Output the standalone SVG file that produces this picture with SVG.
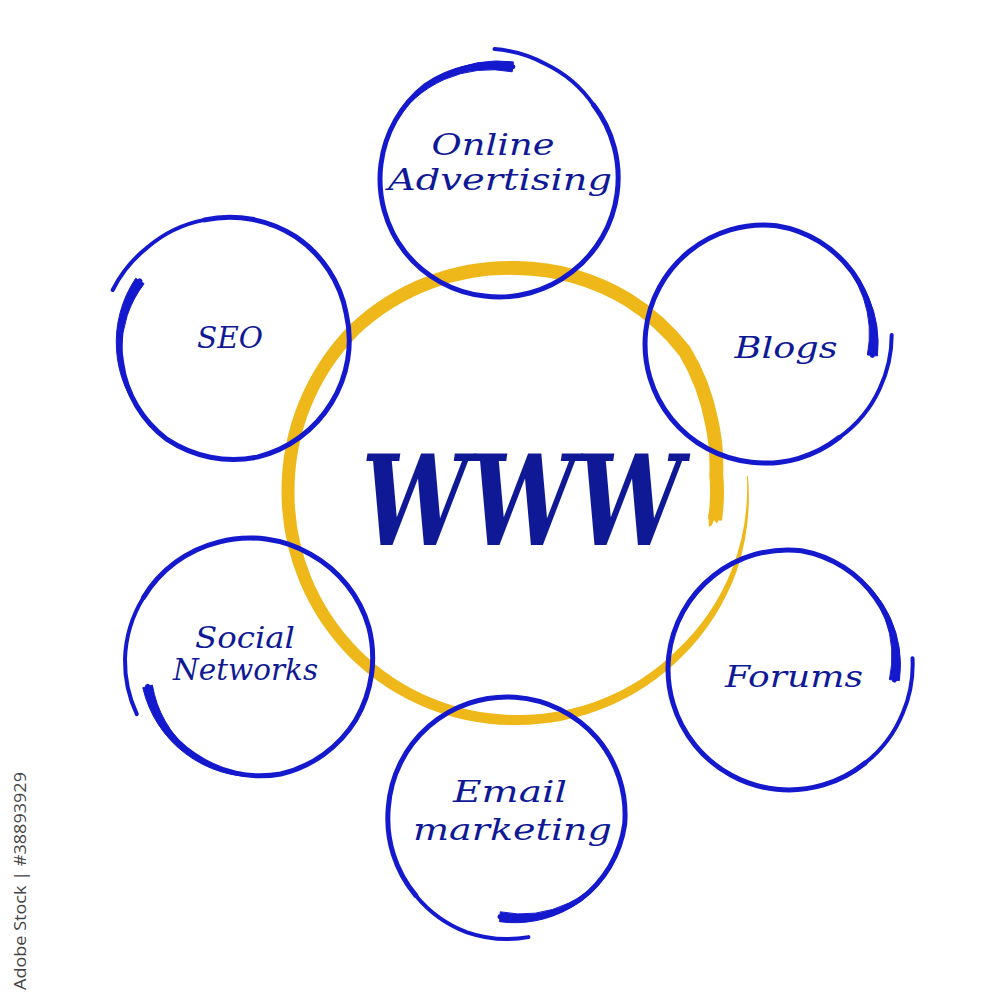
<svg xmlns="http://www.w3.org/2000/svg" width="987" height="1000" viewBox="0 0 987 1000">
<style>
.yfill{fill:#EFB81A;stroke:none}
.ring{fill:none;stroke:#1419CD;stroke-width:5;stroke-linecap:round;stroke-linejoin:round}
.tail{stroke-width:4}
.brush{fill:#1419CD;stroke:#1419CD;stroke-width:1;stroke-linejoin:round}
.label{font-family:"DejaVu Serif",serif;font-style:italic;font-size:30px;fill:#0F1996;text-anchor:middle}
.big{font-family:"DejaVu Serif",serif;font-style:italic;font-weight:bold;font-size:126px;fill:#0F1996;text-anchor:middle}
.credit{font-family:"Open Sans",sans-serif;font-size:17px;fill:#444}
</style>
<rect width="987" height="1000" fill="#fff"/>
<g id="node-www">
  <path class="yfill" d="M747.9,475.8 A232.5,232.5 0 0 1 736.4,571.9 A233,233 0 0 1 681.8,656.8 A233,233 0 0 1 517,725 A234,234 0 0 1 350.8,658.2 A235,235 0 0 1 281.5,492 A236,236 0 0 1 349.8,324.8 A233.5,233.5 0 0 1 517,261 A230,230 0 0 1 631.5,293.7 A227.5,227.5 0 0 1 690.1,346.7 A220,220 0 0 1 718.1,418.8 A210.5,210.5 0 0 1 723.2,473.9 A207,207 0 0 1 722.0,520.8 L708.1,518.9 A193,193 0 0 0 709.3,475.2 A196.5,196.5 0 0 0 704.9,423.6 A206,206 0 0 0 679.4,355.7 A213.5,213.5 0 0 0 624.5,305.8 A216,216 0 0 0 517,275 A220,220 0 0 0 359.0,334.0 A223,223 0 0 0 294.5,492 A222.75,222.75 0 0 0 359.3,649.7 A223,223 0 0 0 517,715 A224,224 0 0 0 676.1,651.1 A226.75,226.75 0 0 0 731.7,570.1 A229.5,229.5 0 0 0 746.9,475.9 Z"/>
  <path class="yfill" d="M708.3,514 L709,527 L712,525 L714,520 L717,523.5 L722,514 Z"/>
  <text class="big" x="522" y="545" textLength="321" lengthAdjust="spacingAndGlyphs">WWW</text>
</g>
<g id="node-online-advertising">
  <path class="ring" d="M512.8,66.8 A117,117 0 0 0 425.7,85.2 A119,119 0 0 0 380.9,164.5 A119,119 0 0 0 405.2,252.3 A118.5,118.5 0 0 0 484.6,296.1 A118,118 0 0 0 571.7,272.0 A118.5,118.5 0 0 0 617.1,193.5 A119.5,119.5 0 0 0 593.6,105.1"/>
  <path class="ring tail" d="M593.6,105.1 A122,122 0 0 0 545.5,64.0 A127,127 0 0 0 494.5,49.1"/>
  <path class="brush" d="M513.4,61.9 A118.5,118.5 0 0 0 393.0,125.0 A113.5,113.5 0 0 1 512.2,71.8 Z"/>
  <text class="label" x="493" y="155" textLength="123" lengthAdjust="spacingAndGlyphs">Online</text>
  <text class="label" x="500" y="190" textLength="224" lengthAdjust="spacingAndGlyphs">Advertising</text>
</g>
<g id="node-seo">
  <path class="ring" d="M139.9,281.0 A110,110 0 0 0 121.7,363.2 A115,115 0 0 0 167.1,439.4 A120,120 0 0 0 257.2,457.1 A120,120 0 0 0 331.4,402.9 A118.5,118.5 0 0 0 346.2,313.5 A119.5,119.5 0 0 0 296.0,236.9 A121.5,121.5 0 0 0 204.6,219.9"/>
  <path class="ring tail" d="M204.6,219.9 A123,123 0 0 0 147.2,247.6 A126,126 0 0 0 112.7,290.0"/>
  <path class="brush" d="M135.7,278.3 A115,115 0 0 0 144.7,418.0 A110,110 0 0 1 144.1,283.7 Z"/>
  <text class="label" x="230" y="348" textLength="66" lengthAdjust="spacingAndGlyphs">SEO</text>
</g>
<g id="node-blogs">
  <path class="ring" d="M872.4,355.4 A111.5,111.5 0 0 0 852.6,272.3 A116.5,116.5 0 0 0 776.4,225.7 A119,119 0 0 0 689.1,251.5 A119,119 0 0 0 645.7,331.6 A119,119 0 0 0 671.5,418.9 A119,119 0 0 0 751.6,462.3 A119.5,119.5 0 0 0 839.5,437.3"/>
  <path class="ring tail" d="M839.5,437.3 A122,122 0 0 0 879.8,388.4 A126,126 0 0 0 891.7,335.1"/>
  <path class="brush" d="M877.4,355.9 A114.5,114.5 0 0 0 831.6,251.0 A109.5,109.5 0 0 1 867.4,354.9 Z"/>
  <text class="label" x="786" y="358" textLength="103" lengthAdjust="spacingAndGlyphs">Blogs</text>
</g>
<g id="node-social-networks">
  <path class="ring" d="M147.6,686.4 A108.5,108.5 0 0 0 194.5,755.1 A115,115 0 0 0 280.8,774.0 A120.5,120.5 0 0 0 355.7,720 A122.5,122.5 0 0 0 368.8,627.2 A122,122 0 0 0 310.5,554.2 A121,121 0 0 0 218.7,542.1 A122,122 0 0 0 143.5,597.5"/>
  <path class="ring tail" d="M143.5,597.5 A124,124 0 0 0 125,659 A125.5,125.5 0 0 0 136.8,714.2"/>
  <path class="brush" d="M142.8,687.7 A114.5,114.5 0 0 0 260.3,776.6 A109.5,109.5 0 0 1 152.4,685.1 Z"/>
  <text class="label" x="245" y="648" textLength="100" lengthAdjust="spacingAndGlyphs">Social</text>
  <text class="label" x="245.5" y="680" textLength="145" lengthAdjust="spacingAndGlyphs">Networks</text>
</g>
<g id="node-forums">
  <path class="ring" d="M894.4,680.1 A109,109 0 0 0 876.0,598.5 A115.5,115.5 0 0 0 801.4,550.7 A119.5,119.5 0 0 0 713.5,575.7 A120.5,120.5 0 0 0 668.7,656.4 A121,121 0 0 0 695.0,745.1 A121,121 0 0 0 776.4,789.3 A121,121 0 0 0 865.1,763.0"/>
  <path class="ring tail" d="M865.1,763.0 A121.5,121.5 0 0 0 902.9,712.7 A123,123 0 0 0 912.5,658.2"/>
  <path class="brush" d="M899.4,680.6 A113.5,113.5 0 0 0 848.7,569.6 A108.5,108.5 0 0 1 889.4,679.6 Z"/>
  <text class="label" x="794" y="687" textLength="138" lengthAdjust="spacingAndGlyphs">Forums</text>
</g>
<g id="node-email-marketing">
  <path class="ring" d="M500.0,916.8 A106,106 0 0 0 579.8,899.8 A114.5,114.5 0 0 0 624.7,824.2 A118.5,118.5 0 0 0 596.8,737.9 A119,119 0 0 0 515.3,697.3 A119,119 0 0 0 428.9,726.2 A119,119 0 0 0 388.3,807.7 A120,120 0 0 0 415.7,895.4"/>
  <path class="ring tail" d="M415.7,895.4 A122,122 0 0 0 467.0,932.3 A123,123 0 0 0 528.4,937.1"/>
  <path class="brush" d="M499.6,921.7 A111.5,111.5 0 0 0 617.6,854.1 A106.5,106.5 0 0 1 500.3,911.8 Z"/>
  <text class="label" x="510" y="802" textLength="114" lengthAdjust="spacingAndGlyphs">Email</text>
  <text class="label" x="512.5" y="840" textLength="199" lengthAdjust="spacingAndGlyphs">marketing</text>
</g>
<text class="credit" transform="translate(25.5,990) rotate(-90)" textLength="218" lengthAdjust="spacingAndGlyphs">Adobe Stock | #38893929</text>
</svg>
